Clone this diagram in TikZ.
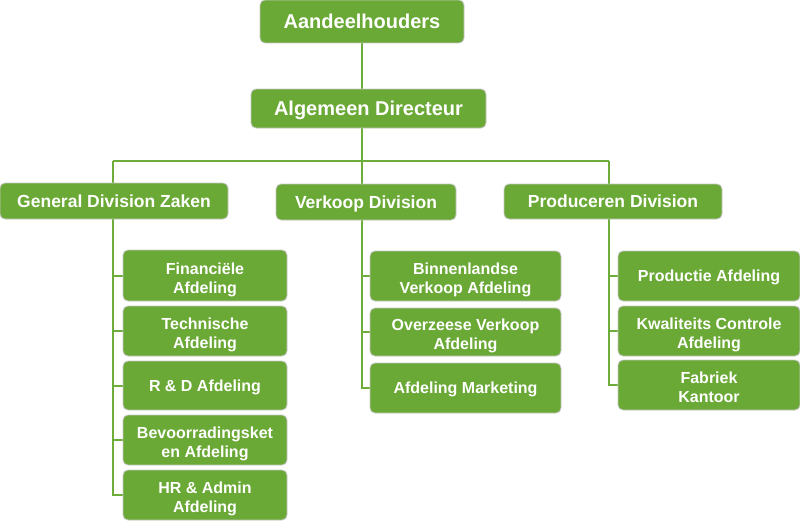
\documentclass[tikz,border=0pt]{standalone}
\usepackage{fontspec}
\setmainfont{Liberation Sans}
\usetikzlibrary{backgrounds}
\definecolor{boxgreen}{HTML}{6AA935}
\definecolor{linegreen}{HTML}{6EAD3A}
\begin{document}
\begin{tikzpicture}[x=1pt,y=-1pt,
  box/.style={draw=gray!45, line width=0.8pt, fill=boxgreen, rounded corners=5pt,
    text=white, font=\bfseries, align=center, inner sep=0pt, text depth=0pt},
  topbox/.style={box, font=\fontsize{20}{24}\selectfont\bfseries},
  divbox/.style={box, font=\fontsize{17.5}{21}\selectfont\bfseries},
  subbox/.style={box, font=\fontsize{16}{19}\selectfont\bfseries},
  subtxt/.style={text=white, align=center, inner sep=0pt, font=\fontsize{16}{19}\selectfont\bfseries},
  twol/.style 2 args={label={[subtxt, yshift=#1]center:#2}},
  conn/.style={draw=linegreen, line width=2pt}]
\useasboundingbox (0,0) rectangle (800,527);

\node[topbox, minimum width=204pt, minimum height=43pt] (A) at (362,21.5) {Aandeelhouders};
\node[topbox, minimum width=235pt, minimum height=39pt] (D) at (368.5,108.5) {Algemeen Directeur};

\node[divbox, minimum width=228pt, minimum height=36pt] (G) at (114,201) {General Division Zaken};
\node[divbox, minimum width=180pt, minimum height=36pt] (V) at (366,202) {Verkoop Division};
\node[divbox, minimum width=218pt, minimum height=35pt] (P) at (613,201.5) {Produceren Division};

\node[subbox, minimum width=164pt, minimum height=51pt, twol={-4.2pt}{Financiële\\Afdeling}] (L1) at (205,275.5) {};
\node[subbox, minimum width=164pt, minimum height=50pt, twol={-4.2pt}{Technische\\Afdeling}] (L2) at (205,331) {};
\node[subbox, minimum width=164pt, minimum height=49pt] (L3) at (205,385.5) {R \& D Afdeling};
\node[subbox, minimum width=164pt, minimum height=50pt, twol={-4.2pt}{Bevoorradingsket\\en Afdeling}] (L4) at (205,440) {};
\node[subbox, minimum width=164pt, minimum height=50pt, twol={-4.2pt}{HR \& Admin\\Afdeling}] (L5) at (205,495) {};

\node[subbox, minimum width=191pt, minimum height=50pt, twol={-4.2pt}{Binnenlandse\\Verkoop Afdeling}] (M1) at (465.5,276) {};
\node[subbox, minimum width=191pt, minimum height=48pt, twol={-4.2pt}{Overzeese Verkoop\\Afdeling}] (M2) at (465.5,332) {};
\node[subbox, minimum width=191pt, minimum height=50pt] (M3) at (465.5,388) {Afdeling Marketing};

\node[subbox, minimum width=182pt, minimum height=50pt] (R1) at (709,276) {Productie Afdeling};
\node[subbox, minimum width=182pt, minimum height=50pt, twol={-4.2pt}{Kwaliteits Controle\\Afdeling}] (R2) at (709,331) {};
\node[subbox, minimum width=182pt, minimum height=50pt, twol={-2.5pt}{Fabriek\\Kantoor}] (R3) at (709,385) {};

\coordinate (busL) at (113,161);
\coordinate (busM) at (362,161);
\coordinate (busR) at (609,161);

\begin{scope}[on background layer]
  \draw[conn] (A.south -| busM) -- (busM);
  \draw[conn] (busL) -- (busR);
  \draw[conn] (busL) -- (busL |- L5.west) -- (L5.west);
  \draw[conn] (busL |- L1.west) -- (L1.west);
  \draw[conn] (busL |- L2.west) -- (L2.west);
  \draw[conn] (busL |- L3.west) -- (L3.west);
  \draw[conn] (busL |- L4.west) -- (L4.west);
  \draw[conn] (busM) -- (busM |- M3.west) -- (M3.west);
  \draw[conn] (busM |- M1.west) -- (M1.west);
  \draw[conn] (busM |- M2.west) -- (M2.west);
  \draw[conn] (busR) -- (busR |- R3.west) -- (R3.west);
  \draw[conn] (busR |- R1.west) -- (R1.west);
  \draw[conn] (busR |- R2.west) -- (R2.west);
\end{scope}
\end{tikzpicture}
\end{document}
